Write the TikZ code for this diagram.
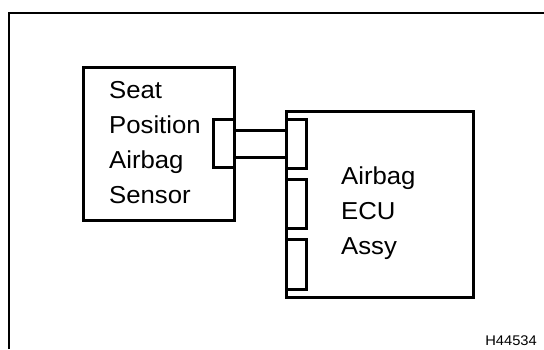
\documentclass[tikz,border=0pt]{standalone}
\usepackage{fontspec}
\setmainfont{Liberation Sans}[FakeStretch=1.05]
\begin{document}
\begin{tikzpicture}[x=1pt,y=1pt,
  box/.style={draw=black,line width=3pt,minimum width=#1,inner sep=0pt},
  conn/.style={draw=black,line width=3pt,inner sep=0pt,minimum width=20pt},
  wire/.style={draw=black,line width=3pt},
  lbl/.style={anchor=base west,inner sep=0pt,font=\fontsize{24.5}{30}\selectfont},
  code/.style={anchor=base east,inner sep=0pt,font=\fontsize{14}{16}\selectfont}]
\useasboundingbox (0,0) rectangle (544,-349);
\fill[white] (0,0) rectangle (544,-349);
\draw[line width=2.6pt] (9,-349) -- (9,-13) -- (544,-13);
% sensor
\node[box=151pt,minimum height=153pt] (sensor) at (158.5,-143.5) {};
\node[conn,minimum width=21pt,minimum height=48pt] (sc) at (223.5,-143) {};
% ECU
\node[box=187pt,minimum height=186pt] (ecu) at (379.5,-204) {};
\node[conn,minimum height=49pt] (c1) at (296,-143.5) {};
\node[conn,minimum height=49pt] (c2) at (296,-203.5) {};
\node[conn,minimum height=50pt] (c3) at (296,-264) {};
% wires
\draw[wire] ([yshift=13pt]sc.east) -- ([yshift=13pt]sc.east -| c1.west);
\draw[wire] ([yshift=-14pt]sc.east) -- ([yshift=-14pt]sc.east -| c1.west);
% labels
\node[lbl] (s1) at (109,-98) {Seat};
\node[lbl] (s2) at (109,-133.5) {Position};
\node[lbl] (s3) at (109,-168.5) {Airbag};
\node[lbl] (s4) at (109,-203.5) {Sensor};
\node[lbl] (e1) at (341,-184) {Airbag};
\node[lbl] (e2) at (341,-219) {ECU};
\node[lbl] (e3) at (341,-254) {Assy};
\node[code] (h) at (537,-345) {H44534};
\end{tikzpicture}
\end{document}
